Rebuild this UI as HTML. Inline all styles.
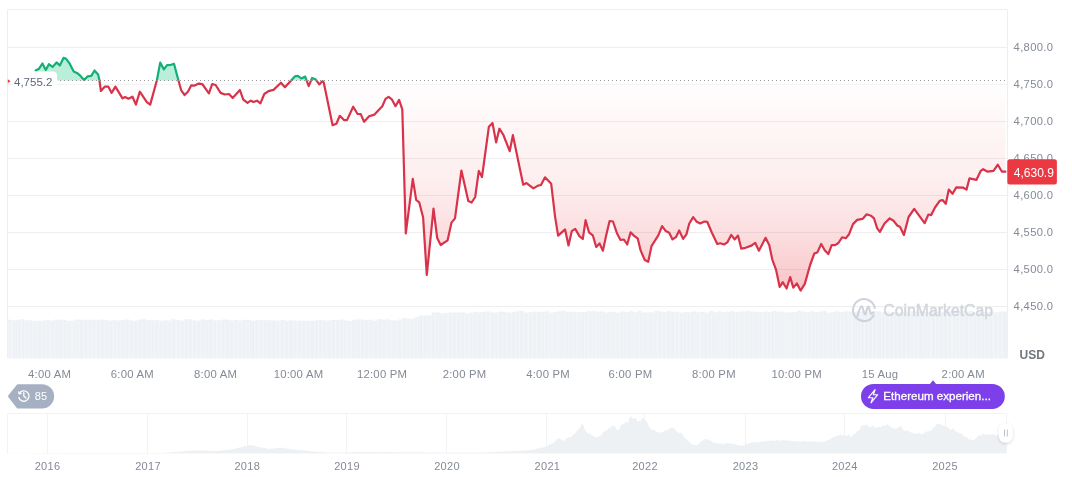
<!DOCTYPE html>
<html><head><meta charset="utf-8"><style>
html,body{margin:0;padding:0;width:1072px;height:477px;overflow:hidden;background:#fff}
svg{position:absolute;left:0;top:0;display:block;will-change:transform}
text{font-family:"Liberation Sans",sans-serif}
</style></head><body>
<svg width="1072" height="477" viewBox="0 0 1072 477">
<defs>
<clipPath id="up"><rect x="0" y="0" width="1072" height="80.5"/></clipPath>
<clipPath id="dn"><rect x="0" y="80.5" width="1072" height="400"/></clipPath>
<linearGradient id="rg" gradientUnits="userSpaceOnUse" x1="0" y1="80" x2="0" y2="291">
<stop offset="0" stop-color="#ea3943" stop-opacity="0.0"/>
<stop offset="0.25" stop-color="#ea3943" stop-opacity="0.05"/>
<stop offset="0.5" stop-color="#ea3943" stop-opacity="0.09"/>
<stop offset="0.75" stop-color="#ea3943" stop-opacity="0.175"/>
<stop offset="1" stop-color="#ea3943" stop-opacity="0.3"/>
</linearGradient>
<filter id="sh" x="-50%" y="-50%" width="200%" height="200%"><feDropShadow dx="0" dy="1" stdDeviation="1.5" flood-color="#000" flood-opacity="0.18"/></filter>
</defs>
<g stroke="#eeeeee" stroke-width="1" fill="none">
<path d="M7.5 358 V9.5 H1007.5 V358"/>
<line x1="8" x2="1007" y1="47.5" y2="47.5"/><line x1="8" x2="1007" y1="121.5" y2="121.5"/><line x1="8" x2="1007" y1="158.5" y2="158.5"/><line x1="8" x2="1007" y1="195.5" y2="195.5"/><line x1="8" x2="1007" y1="232.5" y2="232.5"/><line x1="8" x2="1007" y1="269.5" y2="269.5"/><line x1="8" x2="1007" y1="306.5" y2="306.5"/>
</g>
<line x1="8" x2="1007" y1="84.5" y2="84.5" stroke="#f3f3f3"/>
<path d="M35.60 80.45 L39.00 80.45 L42.40 80.45 L45.80 80.45 L48.90 80.45 L52.50 80.45 L56.60 80.45 L59.80 80.45 L63.50 80.45 L66.10 80.45 L69.70 80.45 L73.70 80.45 L76.90 80.45 L80.50 80.45 L84.10 80.45 L87.70 80.45 L91.30 80.45 L94.50 80.45 L98.10 80.45 L99.40 80.45 L99.46 80.45 L100.90 91.00 L104.90 86.60 L108.20 86.60 L111.60 92.90 L115.40 86.60 L122.50 98.40 L125.00 97.00 L128.40 98.70 L132.50 96.70 L135.90 104.60 L139.80 91.70 L146.80 102.10 L150.20 104.60 L156.86 80.45 L156.90 80.45 L160.20 80.45 L163.90 80.45 L167.00 80.45 L171.10 80.45 L174.00 80.45 L178.40 80.45 L178.44 80.45 L181.20 90.30 L184.60 95.00 L187.90 91.70 L191.30 85.30 L194.60 85.60 L198.80 83.60 L202.20 84.00 L208.90 93.40 L212.20 84.00 L215.60 85.00 L220.60 92.90 L224.80 94.50 L229.00 94.00 L232.70 97.90 L239.90 90.00 L243.30 99.60 L247.50 102.90 L250.80 100.70 L253.40 102.00 L257.00 100.70 L260.40 103.40 L264.30 94.00 L268.50 91.10 L273.50 89.90 L281.00 82.70 L284.90 87.20 L291.10 80.50 L291.15 80.45 L295.00 80.45 L297.90 80.45 L301.20 80.45 L305.20 80.45 L306.62 80.45 L308.70 86.10 L311.07 80.45 L312.10 80.45 L315.80 80.45 L316.42 80.45 L319.30 84.40 L322.50 81.00 L323.80 82.70 L332.60 125.20 L336.40 123.80 L339.80 115.80 L344.00 120.10 L347.00 120.10 L353.20 106.70 L357.40 113.80 L360.70 114.10 L364.10 121.80 L369.10 116.30 L374.50 114.60 L379.20 109.40 L382.30 106.20 L385.50 98.90 L388.60 96.80 L391.80 99.30 L395.50 106.20 L399.10 99.90 L402.30 109.40 L405.80 233.40 L412.80 178.80 L416.20 200.00 L419.20 202.30 L423.10 217.30 L426.80 274.90 L433.50 208.70 L437.20 238.00 L440.70 245.00 L447.60 240.30 L451.50 222.60 L455.00 218.40 L461.40 170.50 L468.30 201.10 L471.60 202.50 L475.20 197.00 L478.80 170.90 L482.00 177.00 L488.90 126.70 L492.50 123.00 L496.10 142.40 L499.40 128.70 L503.40 135.00 L509.70 151.20 L512.90 135.20 L523.20 184.70 L526.50 183.10 L533.40 188.40 L538.00 185.60 L541.00 185.00 L545.00 177.30 L551.20 183.80 L555.10 216.80 L558.10 235.60 L565.10 229.40 L568.50 245.40 L571.80 231.10 L575.20 228.90 L579.40 236.10 L582.80 239.00 L585.60 220.20 L589.00 232.30 L592.80 235.30 L596.20 247.00 L599.50 243.40 L602.90 250.70 L606.20 235.30 L609.60 221.00 L613.00 221.50 L617.10 233.60 L620.50 240.00 L623.90 239.50 L627.20 244.50 L630.60 232.30 L633.90 235.60 L637.80 238.70 L640.60 250.40 L644.80 260.10 L648.20 261.80 L651.50 246.20 L658.30 235.30 L662.10 226.10 L665.80 231.10 L669.20 232.80 L672.50 239.40 L675.90 237.20 L679.20 230.50 L683.10 238.90 L686.40 234.40 L689.30 223.50 L693.20 217.10 L696.80 221.80 L700.20 223.50 L704.40 221.50 L707.20 221.80 L711.90 232.70 L717.30 244.00 L720.30 243.30 L724.00 244.50 L727.40 242.30 L731.20 234.90 L734.60 239.40 L738.00 235.60 L741.30 248.70 L745.50 247.80 L751.40 245.60 L755.20 242.80 L758.90 250.70 L765.60 237.80 L769.30 245.30 L772.30 259.60 L776.00 269.60 L779.70 287.00 L782.80 282.20 L786.60 288.50 L790.20 277.10 L793.30 287.60 L796.90 283.40 L800.60 290.60 L804.80 283.90 L810.10 265.00 L814.30 253.50 L817.40 252.40 L821.20 244.00 L824.70 250.30 L828.30 254.10 L831.70 245.10 L835.20 245.10 L838.40 243.00 L842.10 237.30 L845.70 238.20 L848.90 234.60 L853.00 224.10 L857.20 219.90 L862.50 218.90 L866.70 214.30 L870.90 215.70 L874.00 218.40 L877.20 228.30 L879.90 231.90 L884.50 223.50 L889.70 218.40 L893.50 220.80 L897.30 225.50 L900.10 227.00 L903.90 234.90 L908.60 217.00 L914.20 208.90 L924.60 223.20 L928.40 214.50 L931.20 215.10 L935.00 207.50 L939.70 200.90 L942.50 200.00 L945.80 203.80 L948.80 189.60 L952.50 193.80 L956.30 187.40 L963.30 187.70 L966.50 189.60 L969.50 178.30 L976.50 179.80 L980.80 170.80 L983.10 169.20 L987.80 171.70 L993.50 170.80 L997.80 164.70 L1002.00 171.70 L1005.40 171.70 L1005.4 80.5 L35.6 80.5 Z" fill="url(#rg)"/>
<path d="M35.60 70.50 L39.00 68.70 L42.40 63.50 L45.80 70.00 L48.90 64.20 L52.50 66.90 L56.60 62.40 L59.80 65.50 L63.50 57.90 L66.10 58.80 L69.70 63.70 L73.70 71.40 L76.90 72.90 L80.50 75.90 L84.10 80.00 L87.70 76.30 L91.30 75.90 L94.50 70.50 L98.10 74.50 L99.40 80.00 L99.46 80.45 L100.90 80.45 L104.90 80.45 L108.20 80.45 L111.60 80.45 L115.40 80.45 L122.50 80.45 L125.00 80.45 L128.40 80.45 L132.50 80.45 L135.90 80.45 L139.80 80.45 L146.80 80.45 L150.20 80.45 L156.86 80.45 L156.90 80.30 L160.20 62.60 L163.90 69.40 L167.00 65.20 L171.10 64.80 L174.00 63.80 L178.40 80.30 L178.44 80.45 L181.20 80.45 L184.60 80.45 L187.90 80.45 L191.30 80.45 L194.60 80.45 L198.80 80.45 L202.20 80.45 L208.90 80.45 L212.20 80.45 L215.60 80.45 L220.60 80.45 L224.80 80.45 L229.00 80.45 L232.70 80.45 L239.90 80.45 L243.30 80.45 L247.50 80.45 L250.80 80.45 L253.40 80.45 L257.00 80.45 L260.40 80.45 L264.30 80.45 L268.50 80.45 L273.50 80.45 L281.00 80.45 L284.90 80.45 L291.10 80.45 L291.15 80.45 L295.00 76.30 L297.90 75.90 L301.20 78.50 L305.20 76.60 L306.62 80.45 L308.70 80.45 L311.07 80.45 L312.10 78.00 L315.80 79.60 L316.42 80.45 L319.30 80.45 L322.50 80.45 L323.80 80.45 L332.60 80.45 L336.40 80.45 L339.80 80.45 L344.00 80.45 L347.00 80.45 L353.20 80.45 L357.40 80.45 L360.70 80.45 L364.10 80.45 L369.10 80.45 L374.50 80.45 L379.20 80.45 L382.30 80.45 L385.50 80.45 L388.60 80.45 L391.80 80.45 L395.50 80.45 L399.10 80.45 L402.30 80.45 L405.80 80.45 L412.80 80.45 L416.20 80.45 L419.20 80.45 L423.10 80.45 L426.80 80.45 L433.50 80.45 L437.20 80.45 L440.70 80.45 L447.60 80.45 L451.50 80.45 L455.00 80.45 L461.40 80.45 L468.30 80.45 L471.60 80.45 L475.20 80.45 L478.80 80.45 L482.00 80.45 L488.90 80.45 L492.50 80.45 L496.10 80.45 L499.40 80.45 L503.40 80.45 L509.70 80.45 L512.90 80.45 L523.20 80.45 L526.50 80.45 L533.40 80.45 L538.00 80.45 L541.00 80.45 L545.00 80.45 L551.20 80.45 L555.10 80.45 L558.10 80.45 L565.10 80.45 L568.50 80.45 L571.80 80.45 L575.20 80.45 L579.40 80.45 L582.80 80.45 L585.60 80.45 L589.00 80.45 L592.80 80.45 L596.20 80.45 L599.50 80.45 L602.90 80.45 L606.20 80.45 L609.60 80.45 L613.00 80.45 L617.10 80.45 L620.50 80.45 L623.90 80.45 L627.20 80.45 L630.60 80.45 L633.90 80.45 L637.80 80.45 L640.60 80.45 L644.80 80.45 L648.20 80.45 L651.50 80.45 L658.30 80.45 L662.10 80.45 L665.80 80.45 L669.20 80.45 L672.50 80.45 L675.90 80.45 L679.20 80.45 L683.10 80.45 L686.40 80.45 L689.30 80.45 L693.20 80.45 L696.80 80.45 L700.20 80.45 L704.40 80.45 L707.20 80.45 L711.90 80.45 L717.30 80.45 L720.30 80.45 L724.00 80.45 L727.40 80.45 L731.20 80.45 L734.60 80.45 L738.00 80.45 L741.30 80.45 L745.50 80.45 L751.40 80.45 L755.20 80.45 L758.90 80.45 L765.60 80.45 L769.30 80.45 L772.30 80.45 L776.00 80.45 L779.70 80.45 L782.80 80.45 L786.60 80.45 L790.20 80.45 L793.30 80.45 L796.90 80.45 L800.60 80.45 L804.80 80.45 L810.10 80.45 L814.30 80.45 L817.40 80.45 L821.20 80.45 L824.70 80.45 L828.30 80.45 L831.70 80.45 L835.20 80.45 L838.40 80.45 L842.10 80.45 L845.70 80.45 L848.90 80.45 L853.00 80.45 L857.20 80.45 L862.50 80.45 L866.70 80.45 L870.90 80.45 L874.00 80.45 L877.20 80.45 L879.90 80.45 L884.50 80.45 L889.70 80.45 L893.50 80.45 L897.30 80.45 L900.10 80.45 L903.90 80.45 L908.60 80.45 L914.20 80.45 L924.60 80.45 L928.40 80.45 L931.20 80.45 L935.00 80.45 L939.70 80.45 L942.50 80.45 L945.80 80.45 L948.80 80.45 L952.50 80.45 L956.30 80.45 L963.30 80.45 L966.50 80.45 L969.50 80.45 L976.50 80.45 L980.80 80.45 L983.10 80.45 L987.80 80.45 L993.50 80.45 L997.80 80.45 L1002.00 80.45 L1005.40 80.45 L1005.4 80.5 L35.6 80.5 Z" fill="#16c784" fill-opacity="0.3"/>
<g fill="#eef1f5">
<rect x="7.5" y="319.7" width="4.2" height="38.8"/>
<rect x="11.7" y="320.4" width="4.2" height="38.1"/>
<rect x="15.9" y="319.8" width="4.2" height="38.7"/>
<rect x="20.1" y="319.3" width="4.2" height="39.2"/>
<rect x="24.3" y="320.4" width="4.2" height="38.1"/>
<rect x="28.5" y="320.1" width="4.2" height="38.4"/>
<rect x="32.7" y="320.8" width="4.2" height="37.7"/>
<rect x="36.9" y="320.8" width="4.2" height="37.7"/>
<rect x="41.1" y="320.7" width="4.2" height="37.8"/>
<rect x="45.3" y="319.9" width="4.2" height="38.6"/>
<rect x="49.5" y="320.5" width="4.2" height="38"/>
<rect x="53.7" y="319.6" width="4.2" height="38.9"/>
<rect x="57.9" y="319.7" width="4.2" height="38.8"/>
<rect x="62.1" y="319.8" width="4.2" height="38.7"/>
<rect x="66.3" y="320.8" width="4.2" height="37.7"/>
<rect x="70.5" y="320.7" width="4.2" height="37.8"/>
<rect x="74.7" y="319.5" width="4.2" height="39"/>
<rect x="78.9" y="319.8" width="4.2" height="38.7"/>
<rect x="83.1" y="319.8" width="4.2" height="38.7"/>
<rect x="87.3" y="319.8" width="4.2" height="38.7"/>
<rect x="91.5" y="319.8" width="4.2" height="38.7"/>
<rect x="95.7" y="319.8" width="4.2" height="38.7"/>
<rect x="99.9" y="319.5" width="4.2" height="39"/>
<rect x="104.1" y="320.1" width="4.2" height="38.4"/>
<rect x="108.3" y="320.5" width="4.2" height="38"/>
<rect x="112.5" y="320.1" width="4.2" height="38.4"/>
<rect x="116.7" y="320.6" width="4.2" height="37.9"/>
<rect x="120.9" y="320.1" width="4.2" height="38.4"/>
<rect x="125.1" y="319.4" width="4.2" height="39.1"/>
<rect x="129.3" y="320.5" width="4.2" height="38"/>
<rect x="133.5" y="320.7" width="4.2" height="37.8"/>
<rect x="137.7" y="319.6" width="4.2" height="38.9"/>
<rect x="141.9" y="319.1" width="4.2" height="39.4"/>
<rect x="146.1" y="320" width="4.2" height="38.5"/>
<rect x="150.3" y="320.1" width="4.2" height="38.4"/>
<rect x="154.5" y="320.1" width="4.2" height="38.4"/>
<rect x="158.7" y="320.8" width="4.2" height="37.7"/>
<rect x="162.9" y="320.3" width="4.2" height="38.2"/>
<rect x="167.1" y="320.5" width="4.2" height="38"/>
<rect x="171.3" y="319.2" width="4.2" height="39.3"/>
<rect x="175.5" y="320.1" width="4.2" height="38.4"/>
<rect x="179.7" y="320.5" width="4.2" height="38"/>
<rect x="183.9" y="319.3" width="4.2" height="39.2"/>
<rect x="188.1" y="319.2" width="4.2" height="39.3"/>
<rect x="192.3" y="320.4" width="4.2" height="38.1"/>
<rect x="196.5" y="320.7" width="4.2" height="37.8"/>
<rect x="200.7" y="319.3" width="4.2" height="39.2"/>
<rect x="204.9" y="320.2" width="4.2" height="38.3"/>
<rect x="209.1" y="319.4" width="4.2" height="39.1"/>
<rect x="213.3" y="320.4" width="4.2" height="38.1"/>
<rect x="217.5" y="320.3" width="4.2" height="38.2"/>
<rect x="221.7" y="319.5" width="4.2" height="39"/>
<rect x="225.9" y="319.5" width="4.2" height="39"/>
<rect x="230.1" y="320.5" width="4.2" height="38"/>
<rect x="234.3" y="320" width="4.2" height="38.5"/>
<rect x="238.5" y="320.5" width="4.2" height="38"/>
<rect x="242.7" y="319.8" width="4.2" height="38.7"/>
<rect x="246.9" y="319.7" width="4.2" height="38.8"/>
<rect x="251.1" y="320.8" width="4.2" height="37.7"/>
<rect x="255.3" y="320.3" width="4.2" height="38.2"/>
<rect x="259.5" y="320" width="4.2" height="38.5"/>
<rect x="263.7" y="320.1" width="4.2" height="38.4"/>
<rect x="267.9" y="320.4" width="4.2" height="38.1"/>
<rect x="272.1" y="320.4" width="4.2" height="38.1"/>
<rect x="276.3" y="320.7" width="4.2" height="37.8"/>
<rect x="280.5" y="319.8" width="4.2" height="38.7"/>
<rect x="284.7" y="320.6" width="4.2" height="37.9"/>
<rect x="288.9" y="320.3" width="4.2" height="38.2"/>
<rect x="293.1" y="320.6" width="4.2" height="37.9"/>
<rect x="297.3" y="320.6" width="4.2" height="37.9"/>
<rect x="301.5" y="320.6" width="4.2" height="37.9"/>
<rect x="305.7" y="320.7" width="4.2" height="37.8"/>
<rect x="309.9" y="320.8" width="4.2" height="37.7"/>
<rect x="314.1" y="320.3" width="4.2" height="38.2"/>
<rect x="318.3" y="320" width="4.2" height="38.5"/>
<rect x="322.5" y="320.4" width="4.2" height="38.1"/>
<rect x="326.7" y="320.5" width="4.2" height="38"/>
<rect x="330.9" y="319.9" width="4.2" height="38.6"/>
<rect x="335.1" y="319.9" width="4.2" height="38.6"/>
<rect x="339.3" y="319.4" width="4.2" height="39.1"/>
<rect x="343.5" y="320.4" width="4.2" height="38.1"/>
<rect x="347.7" y="320.9" width="4.2" height="37.6"/>
<rect x="351.9" y="319.8" width="4.2" height="38.7"/>
<rect x="356.1" y="319.4" width="4.2" height="39.1"/>
<rect x="360.3" y="319.5" width="4.2" height="39"/>
<rect x="364.5" y="319.9" width="4.2" height="38.6"/>
<rect x="368.7" y="319.6" width="4.2" height="38.9"/>
<rect x="372.9" y="320.8" width="4.2" height="37.7"/>
<rect x="377.1" y="319.2" width="4.2" height="39.3"/>
<rect x="381.3" y="319.7" width="4.2" height="38.8"/>
<rect x="385.5" y="319.3" width="4.2" height="39.2"/>
<rect x="389.7" y="320.3" width="4.2" height="38.2"/>
<rect x="393.9" y="320.5" width="4.2" height="38"/>
<rect x="398.1" y="319.4" width="4.2" height="39.1"/>
<rect x="402.3" y="317.9" width="4.2" height="40.6"/>
<rect x="406.5" y="318.6" width="4.2" height="39.9"/>
<rect x="410.7" y="318.9" width="4.2" height="39.6"/>
<rect x="414.9" y="316.9" width="4.2" height="41.6"/>
<rect x="419.1" y="315.4" width="4.2" height="43.1"/>
<rect x="423.3" y="315.5" width="4.2" height="43"/>
<rect x="427.5" y="315.6" width="4.2" height="42.9"/>
<rect x="431.7" y="312.5" width="4.2" height="46"/>
<rect x="435.9" y="312.5" width="4.2" height="46"/>
<rect x="440.1" y="313.4" width="4.2" height="45.1"/>
<rect x="444.3" y="313.2" width="4.2" height="45.3"/>
<rect x="448.5" y="312.5" width="4.2" height="46"/>
<rect x="452.7" y="312.4" width="4.2" height="46.1"/>
<rect x="456.9" y="312.6" width="4.2" height="45.9"/>
<rect x="461.1" y="312.4" width="4.2" height="46.1"/>
<rect x="465.3" y="313.5" width="4.2" height="45"/>
<rect x="469.5" y="312.7" width="4.2" height="45.8"/>
<rect x="473.7" y="311.9" width="4.2" height="46.6"/>
<rect x="477.9" y="312.4" width="4.2" height="46.1"/>
<rect x="482.1" y="311.8" width="4.2" height="46.7"/>
<rect x="486.3" y="311.4" width="4.2" height="47.1"/>
<rect x="490.5" y="312.5" width="4.2" height="46"/>
<rect x="494.7" y="312.5" width="4.2" height="46"/>
<rect x="498.9" y="311.5" width="4.2" height="47"/>
<rect x="503.1" y="311.9" width="4.2" height="46.6"/>
<rect x="507.3" y="312.6" width="4.2" height="45.9"/>
<rect x="511.5" y="311.8" width="4.2" height="46.7"/>
<rect x="515.7" y="311.3" width="4.2" height="47.2"/>
<rect x="519.9" y="311" width="4.2" height="47.5"/>
<rect x="524.1" y="312.6" width="4.2" height="45.9"/>
<rect x="528.3" y="312.3" width="4.2" height="46.2"/>
<rect x="532.5" y="311.6" width="4.2" height="46.9"/>
<rect x="536.7" y="311.8" width="4.2" height="46.7"/>
<rect x="540.9" y="311.8" width="4.2" height="46.7"/>
<rect x="545.1" y="311.4" width="4.2" height="47.1"/>
<rect x="549.3" y="312.7" width="4.2" height="45.8"/>
<rect x="553.5" y="312.1" width="4.2" height="46.4"/>
<rect x="557.7" y="311.3" width="4.2" height="47.2"/>
<rect x="561.9" y="310.9" width="4.2" height="47.6"/>
<rect x="566.1" y="311.8" width="4.2" height="46.7"/>
<rect x="570.3" y="311.6" width="4.2" height="46.9"/>
<rect x="574.5" y="312.3" width="4.2" height="46.2"/>
<rect x="578.7" y="312.2" width="4.2" height="46.3"/>
<rect x="582.9" y="312" width="4.2" height="46.5"/>
<rect x="587.1" y="311.2" width="4.2" height="47.3"/>
<rect x="591.3" y="311.2" width="4.2" height="47.3"/>
<rect x="595.5" y="311.5" width="4.2" height="47"/>
<rect x="599.7" y="311.4" width="4.2" height="47.1"/>
<rect x="603.9" y="312.5" width="4.2" height="46"/>
<rect x="608.1" y="311.8" width="4.2" height="46.7"/>
<rect x="612.3" y="312" width="4.2" height="46.5"/>
<rect x="616.5" y="312.7" width="4.2" height="45.8"/>
<rect x="620.7" y="311.4" width="4.2" height="47.1"/>
<rect x="624.9" y="311.9" width="4.2" height="46.6"/>
<rect x="629.1" y="311.2" width="4.2" height="47.3"/>
<rect x="633.3" y="312.3" width="4.2" height="46.2"/>
<rect x="637.5" y="310.9" width="4.2" height="47.6"/>
<rect x="641.7" y="312.4" width="4.2" height="46.1"/>
<rect x="645.9" y="312.4" width="4.2" height="46.1"/>
<rect x="650.1" y="312.4" width="4.2" height="46.1"/>
<rect x="654.3" y="311" width="4.2" height="47.5"/>
<rect x="658.5" y="311.4" width="4.2" height="47.1"/>
<rect x="662.7" y="312.2" width="4.2" height="46.3"/>
<rect x="666.9" y="311.1" width="4.2" height="47.4"/>
<rect x="671.1" y="311.8" width="4.2" height="46.7"/>
<rect x="675.3" y="311.7" width="4.2" height="46.8"/>
<rect x="679.5" y="312.6" width="4.2" height="45.9"/>
<rect x="683.7" y="312" width="4.2" height="46.5"/>
<rect x="687.9" y="312.4" width="4.2" height="46.1"/>
<rect x="692.1" y="311.4" width="4.2" height="47.1"/>
<rect x="696.3" y="312.3" width="4.2" height="46.2"/>
<rect x="700.5" y="311.7" width="4.2" height="46.8"/>
<rect x="704.7" y="312.6" width="4.2" height="45.9"/>
<rect x="708.9" y="311.1" width="4.2" height="47.4"/>
<rect x="713.1" y="312.4" width="4.2" height="46.1"/>
<rect x="717.3" y="311.3" width="4.2" height="47.2"/>
<rect x="721.5" y="311.9" width="4.2" height="46.6"/>
<rect x="725.7" y="311.8" width="4.2" height="46.7"/>
<rect x="729.9" y="311.2" width="4.2" height="47.3"/>
<rect x="734.1" y="312.4" width="4.2" height="46.1"/>
<rect x="738.3" y="311.5" width="4.2" height="47"/>
<rect x="742.5" y="311.5" width="4.2" height="47"/>
<rect x="746.7" y="311" width="4.2" height="47.5"/>
<rect x="750.9" y="311.5" width="4.2" height="47"/>
<rect x="755.1" y="311.7" width="4.2" height="46.8"/>
<rect x="759.3" y="312.2" width="4.2" height="46.3"/>
<rect x="763.5" y="311.5" width="4.2" height="47"/>
<rect x="767.7" y="312.1" width="4.2" height="46.4"/>
<rect x="771.9" y="311.1" width="4.2" height="47.4"/>
<rect x="776.1" y="311.6" width="4.2" height="46.9"/>
<rect x="780.3" y="311.7" width="4.2" height="46.8"/>
<rect x="784.5" y="312.6" width="4.2" height="45.9"/>
<rect x="788.7" y="312.4" width="4.2" height="46.1"/>
<rect x="792.9" y="312.1" width="4.2" height="46.4"/>
<rect x="797.1" y="310.9" width="4.2" height="47.6"/>
<rect x="801.3" y="311.6" width="4.2" height="46.9"/>
<rect x="805.5" y="312.2" width="4.2" height="46.3"/>
<rect x="809.7" y="311.3" width="4.2" height="47.2"/>
<rect x="813.9" y="311.9" width="4.2" height="46.6"/>
<rect x="818.1" y="311.7" width="4.2" height="46.8"/>
<rect x="822.3" y="310.9" width="4.2" height="47.6"/>
<rect x="826.5" y="312.7" width="4.2" height="45.8"/>
<rect x="830.7" y="312.3" width="4.2" height="46.2"/>
<rect x="834.9" y="311.3" width="4.2" height="47.2"/>
<rect x="839.1" y="312" width="4.2" height="46.5"/>
<rect x="843.3" y="311.4" width="4.2" height="47.1"/>
<rect x="847.5" y="311.6" width="4.2" height="46.9"/>
<rect x="851.7" y="311.9" width="4.2" height="46.6"/>
<rect x="855.9" y="311.4" width="4.2" height="47.1"/>
<rect x="860.1" y="311.5" width="4.2" height="47"/>
<rect x="864.3" y="311.6" width="4.2" height="46.9"/>
<rect x="868.5" y="312.1" width="4.2" height="46.4"/>
<rect x="872.7" y="311.4" width="4.2" height="47.1"/>
<rect x="876.9" y="311.3" width="4.2" height="47.2"/>
<rect x="881.1" y="312.2" width="4.2" height="46.3"/>
<rect x="885.3" y="311.5" width="4.2" height="47"/>
<rect x="889.5" y="312.6" width="4.2" height="45.9"/>
<rect x="893.7" y="311.9" width="4.2" height="46.6"/>
<rect x="897.9" y="312.2" width="4.2" height="46.3"/>
<rect x="902.1" y="311.5" width="4.2" height="47"/>
<rect x="906.3" y="312.4" width="4.2" height="46.1"/>
<rect x="910.5" y="311.1" width="4.2" height="47.4"/>
<rect x="914.7" y="311.2" width="4.2" height="47.3"/>
<rect x="918.9" y="311.1" width="4.2" height="47.4"/>
<rect x="923.1" y="312.1" width="4.2" height="46.4"/>
<rect x="927.3" y="312.2" width="4.2" height="46.3"/>
<rect x="931.5" y="311.2" width="4.2" height="47.3"/>
<rect x="935.7" y="311.6" width="4.2" height="46.9"/>
<rect x="939.9" y="312.4" width="4.2" height="46.1"/>
<rect x="944.1" y="312" width="4.2" height="46.5"/>
<rect x="948.3" y="311.1" width="4.2" height="47.4"/>
<rect x="952.5" y="311.3" width="4.2" height="47.2"/>
<rect x="956.7" y="311.2" width="4.2" height="47.3"/>
<rect x="960.9" y="311.1" width="4.2" height="47.4"/>
<rect x="965.1" y="311.6" width="4.2" height="46.9"/>
<rect x="969.3" y="311" width="4.2" height="47.5"/>
<rect x="973.5" y="312.6" width="4.2" height="45.9"/>
<rect x="977.7" y="311.7" width="4.2" height="46.8"/>
<rect x="981.9" y="311.8" width="4.2" height="46.7"/>
<rect x="986.1" y="312.1" width="4.2" height="46.4"/>
<rect x="990.3" y="312.3" width="4.2" height="46.2"/>
<rect x="994.5" y="312.4" width="4.2" height="46.1"/>
<rect x="998.7" y="311.6" width="4.2" height="46.9"/>
<rect x="1002.9" y="311.5" width="4.2" height="47"/>
<rect x="1007.1" y="311.6" width="0.4" height="46.9"/>
</g>
<path d="M9 321V358.5M12.6 321V358.5M17.4 321V358.5M21.6 321V358.5M25.8 321V358.5M29.4 321V358.5M33.6 321V358.5M37.8 321V358.5M42 321V358.5M46.2 321V358.5M50.4 321V358.5M55.2 321V358.5M58.8 321V358.5M63.6 321V358.5M67.8 321V358.5M72 321V358.5M76.2 321V358.5M79.8 321V358.5M84 321V358.5M88.2 321V358.5M92.4 321V358.5M96.6 321V358.5M100.8 321V358.5M105 321V358.5M109.2 321V358.5M113.4 321V358.5M117 321V358.5M121.2 321V358.5M124.8 321V358.5M129 321V358.5M133.2 321V358.5M138 321V358.5M142.8 321V358.5M147 321V358.5M151.2 321V358.5M154.8 321V358.5M159 321V358.5M163.2 321V358.5M168 321V358.5M171.6 321V358.5M176.4 321V358.5M180.6 321V358.5M184.8 321V358.5M188.4 321V358.5M192.6 321V358.5M196.8 321V358.5M201 321V358.5M205.2 321V358.5M208.8 321V358.5M212.4 321V358.5M216.6 321V358.5M220.8 321V358.5M225 321V358.5M229.2 321V358.5M233.4 321V358.5M237.6 321V358.5M241.2 321V358.5M246 321V358.5M249.6 321V358.5M254.4 321V358.5M258.6 321V358.5M262.8 321V358.5M267 321V358.5M271.8 321V358.5M275.4 321V358.5M279.6 321V358.5M283.8 321V358.5M288.6 321V358.5M293.4 321V358.5M297 321V358.5M301.2 321V358.5M306 321V358.5M309.6 321V358.5M314.4 321V358.5M318.6 321V358.5M322.8 321V358.5M327 321V358.5M331.2 321V358.5M335.4 321V358.5M339.6 321V358.5M343.2 321V358.5M346.8 321V358.5M351 321V358.5M355.8 321V358.5M360.6 321V358.5M364.2 321V358.5M369 321V358.5M373.2 321V358.5M378 321V358.5M382.8 321V358.5M387 321V358.5M391.8 321V358.5M396.6 321V358.5M401.4 319.7V358.5M406.2 319.7V358.5M409.8 319.7V358.5M413.4 317.2V358.5M417.6 317.2V358.5M422.4 317.2V358.5M427.2 317.2V358.5M430.8 314V358.5M435 314V358.5M438.6 314V358.5M442.8 314V358.5M447.6 314V358.5M452.4 314V358.5M456.6 314V358.5M460.8 314V358.5M464.4 314V358.5M468.6 314V358.5M472.2 312.8V358.5M477 312.8V358.5M481.2 312.8V358.5M486 312.8V358.5M489.6 312.8V358.5M494.4 312.8V358.5M498 312.8V358.5M502.2 312.8V358.5M506.4 312.8V358.5M511.2 312.8V358.5M515.4 312.8V358.5M519 312.8V358.5M523.2 312.8V358.5M528 312.8V358.5M532.2 312.8V358.5M536.4 312.8V358.5M541.2 312.8V358.5M544.8 312.8V358.5M548.4 312.8V358.5M552 312.8V358.5M556.2 312.8V358.5M559.8 312.8V358.5M564.6 312.8V358.5M568.2 312.8V358.5M572.4 312.8V358.5M576.6 312.8V358.5M580.8 312.8V358.5M584.4 312.8V358.5M588.6 312.8V358.5M592.8 312.8V358.5M596.4 312.8V358.5M601.2 312.8V358.5M606 312.8V358.5M610.8 312.8V358.5M615 312.8V358.5M619.2 312.8V358.5M623.4 312.8V358.5M627 312.8V358.5M631.2 312.8V358.5M634.8 312.8V358.5M639.6 312.8V358.5M643.8 312.8V358.5M648 312.8V358.5M652.2 312.8V358.5M657 312.8V358.5M661.2 312.8V358.5M666 312.8V358.5M670.2 312.8V358.5M674.4 312.8V358.5M678.6 312.8V358.5M682.2 312.8V358.5M686.4 312.8V358.5M690.6 312.8V358.5M694.8 312.8V358.5M699.6 312.8V358.5M703.2 312.8V358.5M707.4 312.8V358.5M711.6 312.8V358.5M715.8 312.8V358.5M720 312.8V358.5M723.6 312.8V358.5M727.2 312.8V358.5M731.4 312.8V358.5M735.6 312.8V358.5M739.8 312.8V358.5M744.6 312.8V358.5M748.8 312.8V358.5M753 312.8V358.5M757.8 312.8V358.5M762.6 312.8V358.5M766.2 312.8V358.5M770.4 312.8V358.5M774.6 312.8V358.5M778.8 312.8V358.5M782.4 312.8V358.5M786.6 312.8V358.5M790.8 312.8V358.5M795 312.8V358.5M799.2 312.8V358.5M803.4 312.8V358.5M807.6 312.8V358.5M811.8 312.8V358.5M815.4 312.8V358.5M819.6 312.8V358.5M823.8 312.8V358.5M828 312.8V358.5M832.2 312.8V358.5M836.4 312.8V358.5M840.6 312.8V358.5M844.2 312.8V358.5M849 312.8V358.5M852.6 312.8V358.5M857.4 312.8V358.5M861 312.8V358.5M864.6 312.8V358.5M868.2 312.8V358.5M872.4 312.8V358.5M876.6 312.8V358.5M881.4 312.8V358.5M885 312.8V358.5M889.2 312.8V358.5M893.4 312.8V358.5M897.6 312.8V358.5M901.8 312.8V358.5M906 312.8V358.5M910.2 312.8V358.5M913.8 312.8V358.5M918 312.8V358.5M922.2 312.8V358.5M925.8 312.8V358.5M930.6 312.8V358.5M935.4 312.8V358.5M939 312.8V358.5M943.8 312.8V358.5M947.4 312.8V358.5M951.6 312.8V358.5M955.2 312.8V358.5M959.4 312.8V358.5M963.6 312.8V358.5M968.4 312.8V358.5M972 312.8V358.5M976.2 312.8V358.5M980.4 312.8V358.5M984.6 312.8V358.5M988.2 312.8V358.5M993 312.8V358.5M997.2 312.8V358.5M1002 312.8V358.5" stroke="#f5f7f9" stroke-width="0.8" fill="none"/>
<line x1="60" x2="1007" y1="80.5" y2="80.5" stroke="#999" stroke-width="1" stroke-dasharray="1 3"/>
<path d="M35.6 70.5 L39 68.7 L42.4 63.5 L45.8 70 L48.9 64.2 L52.5 66.9 L56.6 62.4 L59.8 65.5 L63.5 57.9 L66.1 58.8 L69.7 63.7 L73.7 71.4 L76.9 72.9 L80.5 75.9 L84.1 80 L87.7 76.3 L91.3 75.9 L94.5 70.5 L98.1 74.5 L99.4 80 L100.9 91 L104.9 86.6 L108.2 86.6 L111.6 92.9 L115.4 86.6 L122.5 98.4 L125 97 L128.4 98.7 L132.5 96.7 L135.9 104.6 L139.8 91.7 L146.8 102.1 L150.2 104.6 L156.9 80.3 L160.2 62.6 L163.9 69.4 L167 65.2 L171.1 64.8 L174 63.8 L178.4 80.3 L181.2 90.3 L184.6 95 L187.9 91.7 L191.3 85.3 L194.6 85.6 L198.8 83.6 L202.2 84 L208.9 93.4 L212.2 84 L215.6 85 L220.6 92.9 L224.8 94.5 L229 94 L232.7 97.9 L239.9 90 L243.3 99.6 L247.5 102.9 L250.8 100.7 L253.4 102 L257 100.7 L260.4 103.4 L264.3 94 L268.5 91.1 L273.5 89.9 L281 82.7 L284.9 87.2 L291.1 80.5 L295 76.3 L297.9 75.9 L301.2 78.5 L305.2 76.6 L308.7 86.1 L312.1 78 L315.8 79.6 L319.3 84.4 L322.5 81 L323.8 82.7 L332.6 125.2 L336.4 123.8 L339.8 115.8 L344 120.1 L347 120.1 L353.2 106.7 L357.4 113.8 L360.7 114.1 L364.1 121.8 L369.1 116.3 L374.5 114.6 L379.2 109.4 L382.3 106.2 L385.5 98.9 L388.6 96.8 L391.8 99.3 L395.5 106.2 L399.1 99.9 L402.3 109.4 L405.8 233.4 L412.8 178.8 L416.2 200 L419.2 202.3 L423.1 217.3 L426.8 274.9 L433.5 208.7 L437.2 238 L440.7 245 L447.6 240.3 L451.5 222.6 L455 218.4 L461.4 170.5 L468.3 201.1 L471.6 202.5 L475.2 197 L478.8 170.9 L482 177 L488.9 126.7 L492.5 123 L496.1 142.4 L499.4 128.7 L503.4 135 L509.7 151.2 L512.9 135.2 L523.2 184.7 L526.5 183.1 L533.4 188.4 L538 185.6 L541 185 L545 177.3 L551.2 183.8 L555.1 216.8 L558.1 235.6 L565.1 229.4 L568.5 245.4 L571.8 231.1 L575.2 228.9 L579.4 236.1 L582.8 239 L585.6 220.2 L589 232.3 L592.8 235.3 L596.2 247 L599.5 243.4 L602.9 250.7 L606.2 235.3 L609.6 221 L613 221.5 L617.1 233.6 L620.5 240 L623.9 239.5 L627.2 244.5 L630.6 232.3 L633.9 235.6 L637.8 238.7 L640.6 250.4 L644.8 260.1 L648.2 261.8 L651.5 246.2 L658.3 235.3 L662.1 226.1 L665.8 231.1 L669.2 232.8 L672.5 239.4 L675.9 237.2 L679.2 230.5 L683.1 238.9 L686.4 234.4 L689.3 223.5 L693.2 217.1 L696.8 221.8 L700.2 223.5 L704.4 221.5 L707.2 221.8 L711.9 232.7 L717.3 244 L720.3 243.3 L724 244.5 L727.4 242.3 L731.2 234.9 L734.6 239.4 L738 235.6 L741.3 248.7 L745.5 247.8 L751.4 245.6 L755.2 242.8 L758.9 250.7 L765.6 237.8 L769.3 245.3 L772.3 259.6 L776 269.6 L779.7 287 L782.8 282.2 L786.6 288.5 L790.2 277.1 L793.3 287.6 L796.9 283.4 L800.6 290.6 L804.8 283.9 L810.1 265 L814.3 253.5 L817.4 252.4 L821.2 244 L824.7 250.3 L828.3 254.1 L831.7 245.1 L835.2 245.1 L838.4 243 L842.1 237.3 L845.7 238.2 L848.9 234.6 L853 224.1 L857.2 219.9 L862.5 218.9 L866.7 214.3 L870.9 215.7 L874 218.4 L877.2 228.3 L879.9 231.9 L884.5 223.5 L889.7 218.4 L893.5 220.8 L897.3 225.5 L900.1 227 L903.9 234.9 L908.6 217 L914.2 208.9 L924.6 223.2 L928.4 214.5 L931.2 215.1 L935 207.5 L939.7 200.9 L942.5 200 L945.8 203.8 L948.8 189.6 L952.5 193.8 L956.3 187.4 L963.3 187.7 L966.5 189.6 L969.5 178.3 L976.5 179.8 L980.8 170.8 L983.1 169.2 L987.8 171.7 L993.5 170.8 L997.8 164.7 L1002 171.7 L1005.4 171.7" fill="none" stroke="#12b077" stroke-width="2.2" stroke-linejoin="round" stroke-linecap="round" clip-path="url(#up)"/>
<path d="M35.6 70.5 L39 68.7 L42.4 63.5 L45.8 70 L48.9 64.2 L52.5 66.9 L56.6 62.4 L59.8 65.5 L63.5 57.9 L66.1 58.8 L69.7 63.7 L73.7 71.4 L76.9 72.9 L80.5 75.9 L84.1 80 L87.7 76.3 L91.3 75.9 L94.5 70.5 L98.1 74.5 L99.4 80 L100.9 91 L104.9 86.6 L108.2 86.6 L111.6 92.9 L115.4 86.6 L122.5 98.4 L125 97 L128.4 98.7 L132.5 96.7 L135.9 104.6 L139.8 91.7 L146.8 102.1 L150.2 104.6 L156.9 80.3 L160.2 62.6 L163.9 69.4 L167 65.2 L171.1 64.8 L174 63.8 L178.4 80.3 L181.2 90.3 L184.6 95 L187.9 91.7 L191.3 85.3 L194.6 85.6 L198.8 83.6 L202.2 84 L208.9 93.4 L212.2 84 L215.6 85 L220.6 92.9 L224.8 94.5 L229 94 L232.7 97.9 L239.9 90 L243.3 99.6 L247.5 102.9 L250.8 100.7 L253.4 102 L257 100.7 L260.4 103.4 L264.3 94 L268.5 91.1 L273.5 89.9 L281 82.7 L284.9 87.2 L291.1 80.5 L295 76.3 L297.9 75.9 L301.2 78.5 L305.2 76.6 L308.7 86.1 L312.1 78 L315.8 79.6 L319.3 84.4 L322.5 81 L323.8 82.7 L332.6 125.2 L336.4 123.8 L339.8 115.8 L344 120.1 L347 120.1 L353.2 106.7 L357.4 113.8 L360.7 114.1 L364.1 121.8 L369.1 116.3 L374.5 114.6 L379.2 109.4 L382.3 106.2 L385.5 98.9 L388.6 96.8 L391.8 99.3 L395.5 106.2 L399.1 99.9 L402.3 109.4 L405.8 233.4 L412.8 178.8 L416.2 200 L419.2 202.3 L423.1 217.3 L426.8 274.9 L433.5 208.7 L437.2 238 L440.7 245 L447.6 240.3 L451.5 222.6 L455 218.4 L461.4 170.5 L468.3 201.1 L471.6 202.5 L475.2 197 L478.8 170.9 L482 177 L488.9 126.7 L492.5 123 L496.1 142.4 L499.4 128.7 L503.4 135 L509.7 151.2 L512.9 135.2 L523.2 184.7 L526.5 183.1 L533.4 188.4 L538 185.6 L541 185 L545 177.3 L551.2 183.8 L555.1 216.8 L558.1 235.6 L565.1 229.4 L568.5 245.4 L571.8 231.1 L575.2 228.9 L579.4 236.1 L582.8 239 L585.6 220.2 L589 232.3 L592.8 235.3 L596.2 247 L599.5 243.4 L602.9 250.7 L606.2 235.3 L609.6 221 L613 221.5 L617.1 233.6 L620.5 240 L623.9 239.5 L627.2 244.5 L630.6 232.3 L633.9 235.6 L637.8 238.7 L640.6 250.4 L644.8 260.1 L648.2 261.8 L651.5 246.2 L658.3 235.3 L662.1 226.1 L665.8 231.1 L669.2 232.8 L672.5 239.4 L675.9 237.2 L679.2 230.5 L683.1 238.9 L686.4 234.4 L689.3 223.5 L693.2 217.1 L696.8 221.8 L700.2 223.5 L704.4 221.5 L707.2 221.8 L711.9 232.7 L717.3 244 L720.3 243.3 L724 244.5 L727.4 242.3 L731.2 234.9 L734.6 239.4 L738 235.6 L741.3 248.7 L745.5 247.8 L751.4 245.6 L755.2 242.8 L758.9 250.7 L765.6 237.8 L769.3 245.3 L772.3 259.6 L776 269.6 L779.7 287 L782.8 282.2 L786.6 288.5 L790.2 277.1 L793.3 287.6 L796.9 283.4 L800.6 290.6 L804.8 283.9 L810.1 265 L814.3 253.5 L817.4 252.4 L821.2 244 L824.7 250.3 L828.3 254.1 L831.7 245.1 L835.2 245.1 L838.4 243 L842.1 237.3 L845.7 238.2 L848.9 234.6 L853 224.1 L857.2 219.9 L862.5 218.9 L866.7 214.3 L870.9 215.7 L874 218.4 L877.2 228.3 L879.9 231.9 L884.5 223.5 L889.7 218.4 L893.5 220.8 L897.3 225.5 L900.1 227 L903.9 234.9 L908.6 217 L914.2 208.9 L924.6 223.2 L928.4 214.5 L931.2 215.1 L935 207.5 L939.7 200.9 L942.5 200 L945.8 203.8 L948.8 189.6 L952.5 193.8 L956.3 187.4 L963.3 187.7 L966.5 189.6 L969.5 178.3 L976.5 179.8 L980.8 170.8 L983.1 169.2 L987.8 171.7 L993.5 170.8 L997.8 164.7 L1002 171.7 L1005.4 171.7" fill="none" stroke="#d8334a" stroke-width="2.2" stroke-linejoin="round" stroke-linecap="round" clip-path="url(#dn)"/>
<rect x="14" y="71.5" width="43" height="16" rx="4" fill="#fff"/>
<path d="M7.8 79.3 L10.6 81.2 L7.8 83.1 Z" fill="#ea3943"/>
<text x="14" y="85.6" font-size="11.5" fill="#5f6878">4,755.2</text>
<!-- watermark -->
<g fill="none" stroke="#cfd3db" stroke-width="2.1" stroke-linecap="round" stroke-linejoin="round">
<path d="M873.6 315.5 A11 11 0 1 1 874.8 308"/>
<path d="M857.3 316.5 C858.8 312 860 306.5 861.6 306.3 C863.2 306.1 863.6 314.5 865 314.5 C866.4 314.5 866.8 306.5 868.3 306.6 C869.6 306.7 869.8 313.5 871.3 313.6 C872.2 313.7 873 313 873.6 312.3"/>
</g>
<text x="883.3" y="316.3" font-size="15.8" fill="#d2d6dd" stroke="#d2d6dd" stroke-width="0.45">CoinMarketCap</text>
<g font-size="11.2" letter-spacing="0.35" fill="#848a96"><text x="1013.6" y="51">4,800.0</text><text x="1013.6" y="88">4,750.0</text><text x="1013.6" y="125">4,700.0</text><text x="1013.6" y="162">4,650.0</text><text x="1013.6" y="199">4,600.0</text><text x="1013.6" y="236">4,550.0</text><text x="1013.6" y="273">4,500.0</text><text x="1013.6" y="310">4,450.0</text></g>
<rect x="1007.3" y="159.2" width="49.6" height="25.3" rx="2.5" fill="#ea3943"/>
<text x="1013.8" y="176.7" font-size="12" fill="#fff">4,630.9</text>
<g font-size="11.3" letter-spacing="0.25" fill="#848a96" text-anchor="middle"><text x="49.6" y="377.8">4:00 AM</text><text x="132.4" y="377.8">6:00 AM</text><text x="215.6" y="377.8">8:00 AM</text><text x="298.5" y="377.8">10:00 AM</text><text x="382.1" y="377.8">12:00 PM</text><text x="464.6" y="377.8">2:00 PM</text><text x="548.1" y="377.8">4:00 PM</text><text x="630.5" y="377.8">6:00 PM</text><text x="713.9" y="377.8">8:00 PM</text><text x="796.7" y="377.8">10:00 PM</text><text x="880" y="377.8">15 Aug</text><text x="963.2" y="377.8">2:00 AM</text></g>
<text x="1019.6" y="358.8" font-size="12" font-weight="bold" fill="#71767f">USD</text>
<!-- badge -->
<path d="M9.6 396.3 L18 385.7 H42 A10.65 10.65 0 0 1 42 407 H18 Z" fill="#a6b0c3" stroke="#a6b0c3" stroke-width="3" stroke-linejoin="round"/>
<g fill="none" stroke="#fff" stroke-width="1.3" stroke-linecap="round" stroke-linejoin="round">
<path d="M19.2 393.6 A5.2 5.2 0 1 1 18.8 397.5"/>
<path d="M18.6 391.8 L19.2 393.8 L21.2 393.3"/>
<path d="M23.8 392.6 V396 L26 398"/>
</g>
<text x="34.8" y="400.2" font-size="11" fill="#fff">85</text>
<!-- purple button -->
<path d="M929.5 384.5 L933 380.3 L936.5 384.5 Z" fill="#7c3fea"/>
<rect x="861" y="383.9" width="143.8" height="25" rx="12.5" fill="#7c3fea"/>
<path d="M875.1 389.7 L868.4 397.7 H872.8 L871 402.8 L877.7 394.7 H873.3 Z" fill="none" stroke="#fff" stroke-width="1.15" stroke-linejoin="round"/>
<text x="883.3" y="400.1" font-size="11.6" fill="#fff" stroke="#fff" stroke-width="0.3">Ethereum experien...</text>
<!-- navigator -->
<g stroke="#f2f3f4" stroke-width="1" fill="none">
<path d="M7.5 453.5 V413.5 H1006.5 V453.5"/>
<line x1="47.5" x2="47.5" y1="413.5" y2="453.5"/><line x1="147.5" x2="147.5" y1="413.5" y2="453.5"/><line x1="247.5" x2="247.5" y1="413.5" y2="453.5"/><line x1="346.5" x2="346.5" y1="413.5" y2="453.5"/><line x1="446.5" x2="446.5" y1="413.5" y2="453.5"/><line x1="546.5" x2="546.5" y1="413.5" y2="453.5"/><line x1="644.5" x2="644.5" y1="413.5" y2="453.5"/><line x1="745.5" x2="745.5" y1="413.5" y2="453.5"/><line x1="844.5" x2="844.5" y1="413.5" y2="453.5"/><line x1="945.5" x2="945.5" y1="413.5" y2="453.5"/>
</g>
<path d="M7.5 453.2 L9 453.2 L10.5 453.2 L12 453.2 L13.5 453.2 L15 453.2 L16.5 453.2 L18 453.2 L19.5 453.2 L21 453.2 L22.5 453.2 L24 453.2 L25.5 453.2 L27 453.2 L28.5 453.2 L30 453.2 L31.5 453.2 L33 453.2 L34.5 453.2 L36 453.2 L37.5 453.1 L39 453.1 L40.5 453.2 L42 453.1 L43.5 453.1 L45 453.1 L46.5 453.1 L48 453.1 L49.5 453.1 L51 453.2 L52.5 453.1 L54 453.1 L55.5 453.1 L57 453.1 L58.5 453.1 L60 453.1 L61.5 453.2 L63 453.1 L64.5 453.1 L66 453.1 L67.5 453.1 L69 453.1 L70.5 453.1 L72 453.1 L73.5 453.1 L75 453.1 L76.5 453.1 L78 453.1 L79.5 453.1 L81 453.1 L82.5 453.1 L84 453.1 L85.5 453.1 L87 453.1 L88.5 453.1 L90 453.1 L91.5 453.1 L93 453.1 L94.5 453.1 L96 453.1 L97.5 453.1 L99 453.1 L100.5 453.1 L102 453.1 L103.5 453.1 L105 453.1 L106.5 453.1 L108 453 L109.5 453.1 L111 453 L112.5 453.1 L114 453.1 L115.5 453 L117 453.1 L118.5 453 L120 453.1 L121.5 453 L123 453 L124.5 453 L126 453 L127.5 453.1 L129 453.1 L130.5 453 L132 453.1 L133.5 453 L135 453 L136.5 453.1 L138 453 L139.5 453 L141 453.1 L142.5 453 L144 453 L145.5 453 L147 453 L148.5 453 L150 453 L151.5 453 L153 453 L154.5 453 L156 453 L157.5 453 L159 453 L160.5 453 L162 452.9 L163.5 452.8 L165 452.7 L166.5 452.6 L168 452.4 L169.5 452.4 L171 452.3 L172.5 452.1 L174 452 L175.5 452 L177 451.9 L178.5 451.6 L180 451.7 L181.5 451.5 L183 451.3 L184.5 451.1 L186 450.9 L187.5 450.8 L189 450.9 L190.5 450.6 L192 450.6 L193.5 450.3 L195 450.4 L196.5 450.4 L198 450.3 L199.5 450.3 L201 450.6 L202.5 450.4 L204 450.5 L205.5 450.6 L207 450.8 L208.5 450.7 L210 450.7 L211.5 450.9 L213 450.7 L214.5 450.7 L216 450.9 L217.5 451 L219 450.8 L220.5 450.6 L222 450.4 L223.5 450.3 L225 449.9 L226.5 449.8 L228 449.8 L229.5 449.7 L231 449.3 L232.5 449.1 L234 448.9 L235.5 448.4 L237 447.9 L238.5 447.4 L240 447.7 L241.5 447.1 L243 446.9 L244.5 445.7 L246 445.9 L247.5 445.3 L249 445.2 L250.5 444.5 L252 445.6 L253.5 445.1 L255 446 L256.5 446.5 L258 446.9 L259.5 447.1 L261 447.3 L262.5 447.7 L264 448.1 L265.5 448 L267 448.5 L268.5 448.9 L270 448.8 L271.5 448.4 L273 448.5 L274.5 448.4 L276 448.1 L277.5 448.1 L279 447.8 L280.5 447.8 L282 447.7 L283.5 447.5 L285 448.2 L286.5 448.6 L288 448.8 L289.5 448.9 L291 448.9 L292.5 449.4 L294 449.5 L295.5 449.7 L297 450 L298.5 449.8 L300 450.2 L301.5 450.1 L303 450.5 L304.5 450.6 L306 450.6 L307.5 450.9 L309 451 L310.5 451.2 L312 451.4 L313.5 451.4 L315 451.5 L316.5 451.7 L318 451.9 L319.5 452 L321 452 L322.5 452.2 L324 452.2 L325.5 452.3 L327 452.4 L328.5 452.4 L330 452.5 L331.5 452.5 L333 452.6 L334.5 452.7 L336 452.7 L337.5 452.7 L339 452.6 L340.5 452.6 L342 452.5 L343.5 452.4 L345 452.4 L346.5 452.4 L348 452.4 L349.5 452.3 L351 452.3 L352.5 452.2 L354 452.1 L355.5 452.1 L357 452 L358.5 452 L360 452 L361.5 452 L363 452 L364.5 452 L366 452.1 L367.5 452.1 L369 452 L370.5 452 L372 452 L373.5 452.1 L375 452 L376.5 452.1 L378 452.1 L379.5 452.1 L381 452.2 L382.5 452 L384 452.1 L385.5 452.1 L387 452.1 L388.5 452.2 L390 452.1 L391.5 452.1 L393 452.1 L394.5 452.2 L396 452.2 L397.5 452.2 L399 452.2 L400.5 452.3 L402 452.3 L403.5 452.2 L405 452.2 L406.5 452.2 L408 452.2 L409.5 452.2 L411 452.3 L412.5 452.3 L414 452.2 L415.5 452.2 L417 452.3 L418.5 452.3 L420 452.3 L421.5 452.3 L423 452.3 L424.5 452.3 L426 452.4 L427.5 452.4 L429 452.3 L430.5 452.4 L432 452.4 L433.5 452.3 L435 452.3 L436.5 452.4 L438 452.4 L439.5 452.3 L441 452.4 L442.5 452.4 L444 452.4 L445.5 452.4 L447 452.4 L448.5 452.4 L450 452.4 L451.5 452.4 L453 452.5 L454.5 452.4 L456 452.4 L457.5 452.4 L459 452.5 L460.5 452.5 L462 452.5 L463.5 452.4 L465 452.5 L466.5 452.4 L468 452.5 L469.5 452.5 L471 452.5 L472.5 452.4 L474 452.5 L475.5 452.5 L477 452.5 L478.5 452.5 L480 452.4 L481.5 452.5 L483 452.3 L484.5 452.4 L486 452.2 L487.5 452.2 L489 452.2 L490.5 452 L492 452 L493.5 452 L495 452 L496.5 451.9 L498 451.8 L499.5 451.8 L501 451.7 L502.5 451.7 L504 451.5 L505.5 451.5 L507 451.4 L508.5 451.3 L510 451.3 L511.5 451.2 L513 451.1 L514.5 451.1 L516 450.9 L517.5 450.8 L519 450.7 L520.5 450.8 L522 450.7 L523.5 450.4 L525 450.5 L526.5 450.5 L528 450.2 L529.5 450.2 L531 449.9 L532.5 449.9 L534 449.5 L535.5 449.2 L537 448.5 L538.5 448.7 L540 448.1 L541.5 447.6 L543 447.6 L544.5 447 L546 446.4 L547.5 445.9 L549 444.5 L550.5 444.2 L552 443.3 L553.5 443.1 L555 441.8 L556.5 439.6 L558 438.6 L559.5 438.2 L561 439.3 L562.5 440.4 L564 440.7 L565.5 439.3 L567 438.2 L568.5 437.2 L570 437.3 L571.5 437.1 L573 434.2 L574.5 434.5 L576 431.5 L577.5 430.7 L579 428.4 L580.5 427 L582 422.9 L583.5 425.4 L585 430.5 L586.5 431.6 L588 433.7 L589.5 432.7 L591 434.7 L592.5 435.3 L594 436.3 L595.5 437.5 L597 437 L598.5 436.4 L600 436.1 L601.5 435 L603 432.6 L604.5 431.2 L606 430.8 L607.5 429.4 L609 427.8 L610.5 427.8 L612 425.9 L613.5 426.2 L615 426.1 L616.5 429.7 L618 429.8 L619.5 428.7 L621 425.3 L622.5 423.8 L624 424.8 L625.5 421.1 L627 422.9 L628.5 421.4 L630 417.1 L631.5 416.4 L633 419.2 L634.5 417.9 L636 418 L637.5 421.7 L639 420.8 L640.5 421.6 L642 418.1 L643.5 418.3 L645 420.1 L646.5 421.3 L648 424.3 L649.5 427.2 L651 429.1 L652.5 430.4 L654 429.2 L655.5 431.2 L657 432.3 L658.5 432 L660 432.9 L661.5 432.1 L663 432 L664.5 431.1 L666 429.8 L667.5 430.3 L669 429.2 L670.5 428.3 L672 427.5 L673.5 428.2 L675 428.9 L676.5 431.3 L678 432.2 L679.5 433.2 L681 432.6 L682.5 434.1 L684 437.5 L685.5 438.1 L687 440.1 L688.5 440.9 L690 442.6 L691.5 444.2 L693 444.5 L694.5 445 L696 444.8 L697.5 445.1 L699 444.1 L700.5 442 L702 441.1 L703.5 440.3 L705 439 L706.5 439.1 L708 439.6 L709.5 440.7 L711 440.4 L712.5 442.2 L714 442.4 L715.5 442.7 L717 443.3 L718.5 443.4 L720 443.5 L721.5 443.7 L723 443.5 L724.5 444 L726 443.6 L727.5 442.8 L729 443.5 L730.5 443.2 L732 443.6 L733.5 444 L735 443.9 L736.5 444.8 L738 445.1 L739.5 445.3 L741 445.7 L742.5 445.4 L744 444.7 L745.5 444.6 L747 443.5 L748.5 443.5 L750 443.2 L751.5 442.3 L753 442.3 L754.5 442.5 L756 442.3 L757.5 441.6 L759 442.4 L760.5 441.9 L762 441.2 L763.5 441.5 L765 441.2 L766.5 441 L768 440.6 L769.5 441.3 L771 440.6 L772.5 440.5 L774 440.4 L775.5 440.9 L777 439.5 L778.5 440.5 L780 440.8 L781.5 440.2 L783 440.5 L784.5 440.1 L786 440.5 L787.5 440.8 L789 440.4 L790.5 440.6 L792 441.6 L793.5 441.1 L795 441 L796.5 441.7 L798 441.1 L799.5 441.7 L801 441.3 L802.5 441.6 L804 440.6 L805.5 441.4 L807 441.8 L808.5 440.8 L810 442.2 L811.5 441.1 L813 441.7 L814.5 441.3 L816 441.9 L817.5 442.1 L819 441.3 L820.5 442.4 L822 441.6 L823.5 441.6 L825 441.5 L826.5 440.9 L828 439.9 L829.5 439.7 L831 438.7 L832.5 437.3 L834 437.3 L835.5 436.2 L837 435.4 L838.5 435.6 L840 434.8 L841.5 434.8 L843 435.8 L844.5 434.8 L846 436 L847.5 435.8 L849 434.5 L850.5 436.7 L852 436.7 L853.5 433.8 L855 434.3 L856.5 431.8 L858 430.5 L859.5 430.3 L861 426.4 L862.5 425.6 L864 425.5 L865.5 425 L867 424.6 L868.5 426.8 L870 426.8 L871.5 426.5 L873 425.5 L874.5 427.6 L876 427.6 L877.5 427.3 L879 426.8 L880.5 427.6 L882 425.5 L883.5 425.8 L885 425.8 L886.5 424.5 L888 424.5 L889.5 426.3 L891 426.4 L892.5 428.2 L894 428.1 L895.5 429.1 L897 428.5 L898.5 427.4 L900 426 L901.5 426.5 L903 429.8 L904.5 430.4 L906 430.8 L907.5 430.8 L909 431 L910.5 432.4 L912 432.5 L913.5 432.9 L915 433.4 L916.5 434 L918 432.9 L919.5 432.9 L921 434.4 L922.5 434.1 L924 433.8 L925.5 431.6 L927 431.4 L928.5 431.4 L930 430.7 L931.5 430.2 L933 427.5 L934.5 427.5 L936 424.6 L937.5 423.2 L939 423.9 L940.5 424.3 L942 425.4 L943.5 425.3 L945 426.4 L946.5 426.4 L948 427.3 L949.5 429.1 L951 429.9 L952.5 428.3 L954 429 L955.5 431.5 L957 431.6 L958.5 432.9 L960 432.5 L961.5 434.1 L963 434.7 L964.5 436.9 L966 436.8 L967.5 438.1 L969 439.5 L970.5 439.1 L972 440.2 L973.5 439.9 L975 439.3 L976.5 437.4 L978 436.3 L979.5 434.7 L981 435.8 L982.5 433.9 L984 433.8 L985.5 434.8 L987 434.5 L988.5 434.9 L990 433.9 L991.5 435.1 L993 433.8 L994.5 434.4 L996 435.7 L997.5 434.7 L999 435.3 L1000.5 436.1 L1002 435.9 L1003.5 434.8 L1005 434.4 L1006.4 453.5 L7.5 453.5 Z" fill="#eef1f4"/>
<g font-size="11" letter-spacing="0.3" fill="#848a96" text-anchor="middle"><text x="47.5" y="469.7">2016</text><text x="148" y="469.7">2017</text><text x="247.3" y="469.7">2018</text><text x="347" y="469.7">2019</text><text x="447" y="469.7">2020</text><text x="547.4" y="469.7">2021</text><text x="645" y="469.7">2022</text><text x="745.5" y="469.7">2023</text><text x="844.8" y="469.7">2024</text><text x="945" y="469.7">2025</text></g>
<rect x="998.8" y="423.6" width="13.8" height="19" rx="6.5" fill="#fff" filter="url(#sh)"/>
<g stroke="#b3bac7" stroke-width="0.9"><line x1="1004.5" x2="1004.5" y1="429.5" y2="436.5"/><line x1="1007.3" x2="1007.3" y1="429.5" y2="436.5"/></g>
</svg>
</body></html>
